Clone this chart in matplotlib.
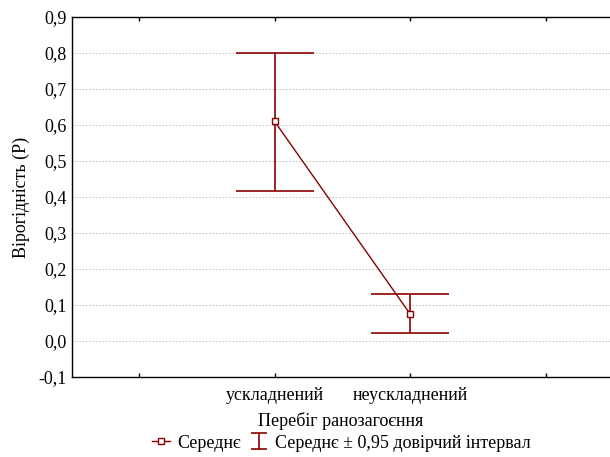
import matplotlib
matplotlib.use('Agg')
import matplotlib.pyplot as plt
from matplotlib.ticker import FuncFormatter, MultipleLocator
from matplotlib.lines import Line2D
from matplotlib.path import Path

categories = ["ускладнений", "неускладнений"]
means = [0.61, 0.075]
ci_lower = [0.418, 0.022]
ci_upper = [0.80, 0.13]

COLOR = "#8b0000"
plt.rcParams['font.family'] = ['Liberation Serif', 'DejaVu Serif']
plt.rcParams['font.size'] = 13

fig = plt.figure(figsize=(6.10, 4.57), dpi=100)
ax = fig.add_axes([72 / 610, 1 - 377 / 457, (610 - 72) / 610, (377 - 17) / 457])

x = [1, 2]
yerr = [[m - lo for m, lo in zip(means, ci_lower)],
        [hi - m for m, hi in zip(means, ci_upper)]]

ax.plot(x, means, color=COLOR, lw=1.0, marker="s", ms=4.5,
        mfc="white", mec=COLOR, mew=1.0, zorder=4)
ax.errorbar(x, means, yerr=yerr, fmt="none", ecolor=COLOR, elinewidth=1.2,
            capsize=28, capthick=1.2, zorder=3)

ax.set_xlim(-0.495, 3.475)
ax.set_ylim(-0.1, 0.9)
ax.yaxis.set_major_locator(MultipleLocator(0.1))
ax.yaxis.set_major_formatter(FuncFormatter(lambda v, p: f"{v:.1f}".replace(".", ",")))
ax.set_xticks([0, 1, 2, 3])
ax.set_xticklabels(["", categories[0], categories[1], ""])
ax.tick_params(axis="x", direction="in", length=3, top=True, width=1, pad=7)
ax.tick_params(axis="y", length=0, pad=4)

for v in [i / 10 for i in range(0, 9)]:
    ax.axhline(v, color="#c8c8c8", lw=0.8, ls=(0, (1.5, 1.5)), zorder=1)

for s in ["left", "top", "bottom"]:
    ax.spines[s].set_linewidth(1.0)
ax.spines["right"].set_visible(False)

ax.set_ylabel("Вірогідність (P)", labelpad=6)
ax.set_xlabel("Перебіг ранозагоєння", labelpad=6)

# legend handles
ibeam = Path([(-1, 1), (1, 1), (0, 1), (0, -1), (-1, -1), (1, -1)],
             [Path.MOVETO, Path.LINETO, Path.MOVETO, Path.LINETO, Path.MOVETO, Path.LINETO])
h_mean = Line2D([], [], color=COLOR, lw=1.0, marker="s", ms=4.5,
                mfc="white", mec=COLOR, mew=1.0)
h_ci = Line2D([], [], ls="none", marker=ibeam, ms=12, mfc="none",
              mec=COLOR, mew=1.2)
fig.legend([h_mean, h_ci], ["Середнє", "Середнє ± 0,95 довірчий інтервал"],
           loc="center", bbox_to_anchor=(341 / 610, 1 - 443 / 457), ncol=2,
           frameon=False, handlelength=1.0, handletextpad=0.4,
           columnspacing=0.5, borderpad=0)

fig.savefig("out.png", dpi=100)
